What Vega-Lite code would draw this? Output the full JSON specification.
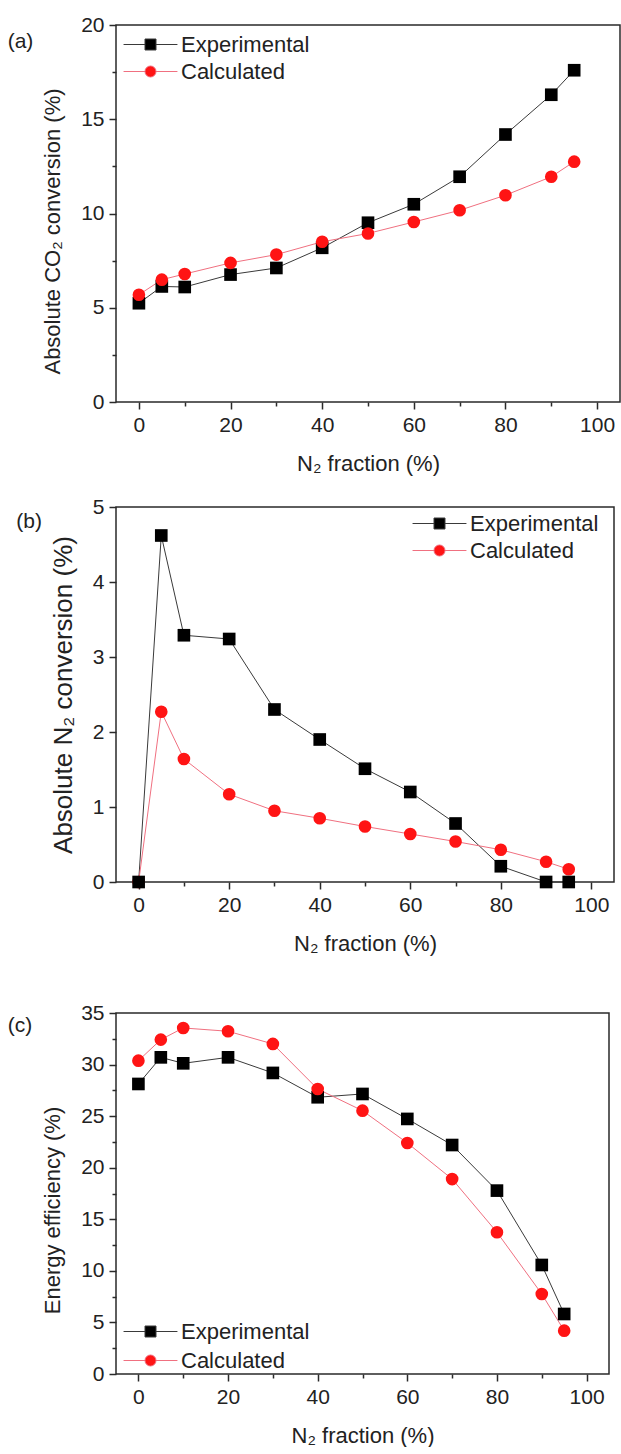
{
  "$schema": "https://vega.github.io/schema/vega-lite/v6.json",
  "background": "white",
  "padding": {"left": 6, "top": 13, "right": 0, "bottom": 0},
  "config": {
    "font": "Liberation Sans",
    "view": {"stroke": "#2a2a2a", "strokeWidth": 1.5},
    "axis": {
      "domain": false,
      "grid": false,
      "labelFont": "Liberation Sans",
      "labelFontSize": 21,
      "labelColor": "#222222",
      "labelPadding": 5,
      "labelFlush": false,
      "labelOverlap": false,
      "titleFont": "Liberation Sans",
      "titleFontSize": 22,
      "titleFontWeight": "normal",
      "titleColor": "#222222",
      "tickColor": "#2a2a2a",
      "tickWidth": 1.5
    },
    "axisX": {"titlePadding": 18},
    "axisY": {"titlePadding": 16},
    "legend": {
      "orient": "none",
      "padding": 0,
      "labelFont": "Liberation Sans",
      "labelFontSize": 22,
      "labelColor": "#222222",
      "symbolSize": 484,
      "symbolStrokeWidth": 1,
      "symbolOpacity": 1,
      "labelOffset": 19
    },
    "title": {
      "anchor": "start",
      "frame": "bounds",
      "fontSize": 21,
      "fontWeight": "normal",
      "color": "#222222",
      "offset": 0,
      "baseline": "middle"
    }
  },
  "datasets": {
    "co2": [
      {"x": 0, "y": 5.24, "series": "Experimental"},
      {"x": 5, "y": 6.13, "series": "Experimental"},
      {"x": 10, "y": 6.1, "series": "Experimental"},
      {"x": 20, "y": 6.76, "series": "Experimental"},
      {"x": 30, "y": 7.11, "series": "Experimental"},
      {"x": 40, "y": 8.18, "series": "Experimental"},
      {"x": 50, "y": 9.51, "series": "Experimental"},
      {"x": 60, "y": 10.49, "series": "Experimental"},
      {"x": 70, "y": 11.95, "series": "Experimental"},
      {"x": 80, "y": 14.19, "series": "Experimental"},
      {"x": 90, "y": 16.3, "series": "Experimental"},
      {"x": 95, "y": 17.6, "series": "Experimental"},
      {"x": 0, "y": 5.69, "series": "Calculated"},
      {"x": 5, "y": 6.49, "series": "Calculated"},
      {"x": 10, "y": 6.79, "series": "Calculated"},
      {"x": 20, "y": 7.38, "series": "Calculated"},
      {"x": 30, "y": 7.82, "series": "Calculated"},
      {"x": 40, "y": 8.5, "series": "Calculated"},
      {"x": 50, "y": 8.94, "series": "Calculated"},
      {"x": 60, "y": 9.55, "series": "Calculated"},
      {"x": 70, "y": 10.17, "series": "Calculated"},
      {"x": 80, "y": 10.97, "series": "Calculated"},
      {"x": 90, "y": 11.95, "series": "Calculated"},
      {"x": 95, "y": 12.75, "series": "Calculated"}
    ],
    "n2": [
      {"x": 0, "y": 0, "series": "Calculated"},
      {"x": 5, "y": 2.27, "series": "Calculated"},
      {"x": 10, "y": 1.64, "series": "Calculated"},
      {"x": 20, "y": 1.17, "series": "Calculated"},
      {"x": 30, "y": 0.95, "series": "Calculated"},
      {"x": 40, "y": 0.85, "series": "Calculated"},
      {"x": 50, "y": 0.74, "series": "Calculated"},
      {"x": 60, "y": 0.64, "series": "Calculated"},
      {"x": 70, "y": 0.54, "series": "Calculated"},
      {"x": 80, "y": 0.43, "series": "Calculated"},
      {"x": 90, "y": 0.27, "series": "Calculated"},
      {"x": 95, "y": 0.17, "series": "Calculated"},
      {"x": 0, "y": 0, "series": "Experimental"},
      {"x": 5, "y": 4.62, "series": "Experimental"},
      {"x": 10, "y": 3.29, "series": "Experimental"},
      {"x": 20, "y": 3.24, "series": "Experimental"},
      {"x": 30, "y": 2.3, "series": "Experimental"},
      {"x": 40, "y": 1.9, "series": "Experimental"},
      {"x": 50, "y": 1.51, "series": "Experimental"},
      {"x": 60, "y": 1.2, "series": "Experimental"},
      {"x": 70, "y": 0.78, "series": "Experimental"},
      {"x": 80, "y": 0.21, "series": "Experimental"},
      {"x": 90, "y": 0, "series": "Experimental"},
      {"x": 95, "y": 0, "series": "Experimental"}
    ],
    "eff": [
      {"x": 0, "y": 28.12, "series": "Experimental"},
      {"x": 5, "y": 30.7, "series": "Experimental"},
      {"x": 10, "y": 30.12, "series": "Experimental"},
      {"x": 20, "y": 30.7, "series": "Experimental"},
      {"x": 30, "y": 29.19, "series": "Experimental"},
      {"x": 40, "y": 26.83, "series": "Experimental"},
      {"x": 50, "y": 27.15, "series": "Experimental"},
      {"x": 60, "y": 24.73, "series": "Experimental"},
      {"x": 70, "y": 22.2, "series": "Experimental"},
      {"x": 80, "y": 17.78, "series": "Experimental"},
      {"x": 90, "y": 10.57, "series": "Experimental"},
      {"x": 95, "y": 5.82, "series": "Experimental"},
      {"x": 0, "y": 30.38, "series": "Calculated"},
      {"x": 5, "y": 32.42, "series": "Calculated"},
      {"x": 10, "y": 33.55, "series": "Calculated"},
      {"x": 20, "y": 33.23, "series": "Calculated"},
      {"x": 30, "y": 32.0, "series": "Calculated"},
      {"x": 40, "y": 27.63, "series": "Calculated"},
      {"x": 50, "y": 25.53, "series": "Calculated"},
      {"x": 60, "y": 22.4, "series": "Calculated"},
      {"x": 70, "y": 18.9, "series": "Calculated"},
      {"x": 80, "y": 13.74, "series": "Calculated"},
      {"x": 90, "y": 7.76, "series": "Calculated"},
      {"x": 95, "y": 4.2, "series": "Calculated"}
    ]
  },
  "spacing": 46,
  "resolve": {"scale": {"color": "independent", "fill": "independent"}},
  "vconcat": [
    {
      "spacing": 20,
      "resolve": {"scale": {"color": "independent", "fill": "independent"}},
      "vconcat": [
        {
          "title": {"text": "(a)", "dx": -34, "dy": 42},
          "width": 504,
          "height": 377,
          "data": {"name": "co2"},
          "encoding": {
            "x": {
              "field": "x", "type": "quantitative",
              "scale": {"domain": [-5, 105], "nice": false, "zero": false},
              "axis": {
                "title": "N₂ fraction (%)",
                "values": [0, 10, 20, 30, 40, 50, 60, 70, 80, 90, 100],
                "labelExpr": "datum.value % 20 === 0 ? datum.label : ''",
                "tickSize": {"condition": {"test": "datum.value % 20 === 0", "value": 7}, "value": 4}
              }
            },
            "y": {
              "field": "y", "type": "quantitative",
              "scale": {"domain": [0, 20], "nice": false},
              "axis": {
                "title": "Absolute CO₂ conversion (%)",
                "titleY": 206,
                "values": [0, 2.5, 5, 7.5, 10, 12.5, 15, 17.5, 20],
                "labelExpr": "datum.value % 5 === 0 ? datum.label : ''",
                "tickSize": {"condition": {"test": "datum.value % 5 === 0", "value": 7}, "value": 4}
              }
            }
          },
          "layer": [
            {
              "transform": [{"filter": "datum.series === 'Experimental'"}],
              "mark": {"type": "line", "strokeWidth": 1, "color": "#3a3a3a"}
            },
            {
              "transform": [{"filter": "datum.series === 'Calculated'"}],
              "mark": {"type": "line", "strokeWidth": 1, "color": "#f07080"}
            },
            {
              "transform": [{"filter": "datum.series === 'Experimental'"}],
              "mark": {"type": "point", "shape": "square", "filled": true, "opacity": 1, "size": 160},
              "encoding": {
                "color": {
                  "field": "series", "type": "nominal",
                  "scale": {"range": ["#000000"]},
                  "legend": {
                    "title": null, "legendX": 23, "legendY": 8,
                    "symbolType": "M-2.45,0H-0.5M0.5,0H2.45M-0.5,-0.5H0.5V0.5H-0.5Z",
                    "symbolStrokeColor": "#3a3a3a"
                  }
                }
              }
            },
            {
              "transform": [{"filter": "datum.series === 'Calculated'"}],
              "mark": {"type": "point", "shape": "circle", "filled": true, "opacity": 1, "size": 160},
              "encoding": {
                "fill": {
                  "field": "series", "type": "nominal",
                  "scale": {"range": ["#ff1414"]},
                  "legend": {
                    "title": null, "legendX": 23, "legendY": 35,
                    "symbolType": "M-2.45,0H-0.5M0.5,0H2.45M-0.5,0A0.5,0.5 0 1,0 0.5,0A0.5,0.5 0 1,0 -0.5,0Z",
                    "symbolStrokeColor": "#f07080"
                  }
                }
              }
            }
          ]
        },
        {
          "title": {"text": "(b)", "dx": -34, "dy": 40},
          "width": 498,
          "height": 375,
          "data": {"name": "n2"},
          "encoding": {
            "x": {
              "field": "x", "type": "quantitative",
              "scale": {"domain": [-5, 105], "nice": false, "zero": false},
              "axis": {
                "title": "N₂ fraction (%)",
                "values": [0, 10, 20, 30, 40, 50, 60, 70, 80, 90, 100],
                "labelExpr": "datum.value % 20 === 0 ? datum.label : ''",
                "tickSize": {"condition": {"test": "datum.value % 20 === 0", "value": 7}, "value": 4}
              }
            },
            "y": {
              "field": "y", "type": "quantitative",
              "scale": {"domain": [0, 5], "nice": false},
              "axis": {
                "title": "Absolute N₂ conversion (%)",
                "titleFontSize": 26,
                "format": "d",
                "values": [0, 0.5, 1, 1.5, 2, 2.5, 3, 3.5, 4, 4.5, 5],
                "labelExpr": "datum.value % 1 === 0 ? datum.label : ''",
                "tickSize": {"condition": {"test": "datum.value % 1 === 0", "value": 7}, "value": 4}
              }
            }
          },
          "layer": [
            {
              "transform": [{"filter": "datum.series === 'Experimental'"}],
              "mark": {"type": "line", "strokeWidth": 1, "color": "#3a3a3a"}
            },
            {
              "transform": [{"filter": "datum.series === 'Calculated'"}],
              "mark": {"type": "line", "strokeWidth": 1, "color": "#f07080"}
            },
            {
              "transform": [{"filter": "datum.series === 'Calculated'"}],
              "mark": {"type": "point", "shape": "circle", "filled": true, "opacity": 1, "size": 160},
              "encoding": {
                "fill": {
                  "field": "series", "type": "nominal",
                  "scale": {"range": ["#ff1414"]},
                  "legend": {
                    "title": null, "legendX": 312, "legendY": 32,
                    "symbolType": "M-2.45,0H-0.5M0.5,0H2.45M-0.5,0A0.5,0.5 0 1,0 0.5,0A0.5,0.5 0 1,0 -0.5,0Z",
                    "symbolStrokeColor": "#f07080"
                  }
                }
              }
            },
            {
              "transform": [{"filter": "datum.series === 'Experimental'"}],
              "mark": {"type": "point", "shape": "square", "filled": true, "opacity": 1, "size": 160},
              "encoding": {
                "color": {
                  "field": "series", "type": "nominal",
                  "scale": {"range": ["#000000"]},
                  "legend": {
                    "title": null, "legendX": 312, "legendY": 5,
                    "symbolType": "M-2.45,0H-0.5M0.5,0H2.45M-0.5,-0.5H0.5V0.5H-0.5Z",
                    "symbolStrokeColor": "#3a3a3a"
                  }
                }
              }
            }
          ]
        }
      ]
    },
    {
      "title": {"text": "(c)", "dx": -34, "dy": 38},
      "width": 493,
      "height": 361,
      "data": {"name": "eff"},
      "encoding": {
        "x": {
          "field": "x", "type": "quantitative",
          "scale": {"domain": [-5, 105], "nice": false, "zero": false},
          "axis": {
            "title": "N₂ fraction (%)",
            "values": [0, 10, 20, 30, 40, 50, 60, 70, 80, 90, 100],
            "labelExpr": "datum.value % 20 === 0 ? datum.label : ''",
            "tickSize": {"condition": {"test": "datum.value % 20 === 0", "value": 7}, "value": 4}
          }
        },
        "y": {
          "field": "y", "type": "quantitative",
          "scale": {"domain": [0, 35], "nice": false},
          "axis": {
            "title": "Energy efficiency (%)",
            "titleY": 197,
            "values": [0, 2.5, 5, 7.5, 10, 12.5, 15, 17.5, 20, 22.5, 25, 27.5, 30, 32.5, 35],
            "labelExpr": "datum.value % 5 === 0 ? datum.label : ''",
            "tickSize": {"condition": {"test": "datum.value % 5 === 0", "value": 7}, "value": 4}
          }
        }
      },
      "layer": [
        {
          "transform": [{"filter": "datum.series === 'Experimental'"}],
          "mark": {"type": "line", "strokeWidth": 1, "color": "#3a3a3a"}
        },
        {
          "transform": [{"filter": "datum.series === 'Calculated'"}],
          "mark": {"type": "line", "strokeWidth": 1, "color": "#f07080"}
        },
        {
          "transform": [{"filter": "datum.series === 'Experimental'"}],
          "mark": {"type": "point", "shape": "square", "filled": true, "opacity": 1, "size": 160},
          "encoding": {
            "color": {
              "field": "series", "type": "nominal",
              "scale": {"range": ["#000000"]},
              "legend": {
                "title": null, "legendX": 23, "legendY": 307,
                "symbolType": "M-2.45,0H-0.5M0.5,0H2.45M-0.5,-0.5H0.5V0.5H-0.5Z",
                "symbolStrokeColor": "#3a3a3a"
              }
            }
          }
        },
        {
          "transform": [{"filter": "datum.series === 'Calculated'"}],
          "mark": {"type": "point", "shape": "circle", "filled": true, "opacity": 1, "size": 160},
          "encoding": {
            "fill": {
              "field": "series", "type": "nominal",
              "scale": {"range": ["#ff1414"]},
              "legend": {
                "title": null, "legendX": 23, "legendY": 336,
                "symbolType": "M-2.45,0H-0.5M0.5,0H2.45M-0.5,0A0.5,0.5 0 1,0 0.5,0A0.5,0.5 0 1,0 -0.5,0Z",
                "symbolStrokeColor": "#f07080"
              }
            }
          }
        }
      ]
    }
  ]
}
